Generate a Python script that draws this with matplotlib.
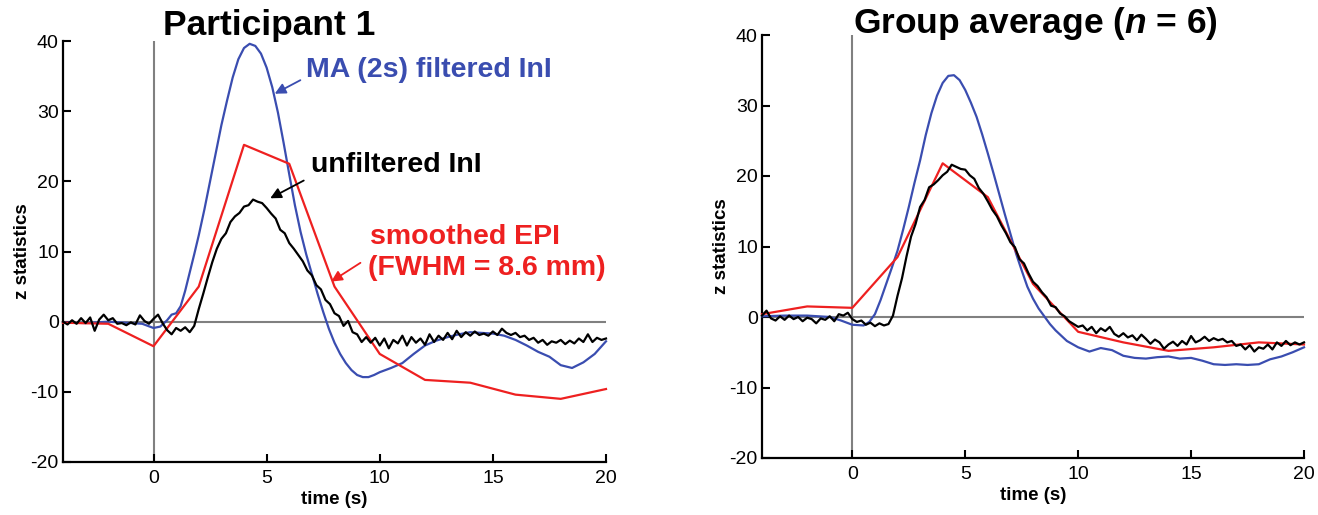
import matplotlib
matplotlib.use("Agg")
import matplotlib.pyplot as plt
import numpy as np

plt.rcParams['font.family'] = ['Liberation Sans', 'DejaVu Sans']
plt.rcParams['mathtext.fontset'] = 'custom'
plt.rcParams['mathtext.rm'] = 'Liberation Sans:bold'
plt.rcParams['mathtext.it'] = 'Liberation Sans:italic:bold'
plt.rcParams['axes.unicode_minus'] = False

# ---------------- data ----------------
# unfiltered InI (black), sampled every 0.2 s from -4 to 20
t_black = [-4.0 + 0.2 * i for i in range(121)]
p1_unfiltered = [
    0.0, -0.4, 0.2, -0.3, 0.5, -0.2, 0.6, -1.3, 0.3, 1.0,
    0.2, 0.5, -0.3, -0.2, -0.5, -0.1, -0.4, 0.9, 0.1, -0.3,
    0.4, 1.0, -0.2, -1.2, -1.8, -0.9, -1.3, -0.8, -1.5, -0.6,
    1.8, 4.0, 6.3, 8.5, 10.4, 11.8, 12.6, 14.2, 15.0, 15.5,
    16.4, 16.6, 17.4, 17.1, 16.9, 16.2, 15.4, 14.7, 13.1, 12.6,
    11.2, 10.4, 9.5, 8.6, 7.3, 6.6, 5.2, 4.6, 3.1, 2.5,
    1.2, 0.8, -0.6, 0.1, -1.5, -1.8, -2.9, -2.2, -3.0, -2.3,
    -3.4, -2.4, -3.8, -2.6, -3.1, -2.0, -3.4, -2.2, -3.0, -2.4,
    -3.3, -1.8, -2.9, -2.0, -2.6, -1.6, -2.5, -1.3, -2.2, -1.5,
    -2.0, -1.4, -1.9, -1.7, -2.0, -1.4, -1.9, -1.0, -1.6, -1.9,
    -1.6, -2.2, -2.0, -2.6, -2.3, -3.0, -2.6, -3.3, -2.8, -3.0,
    -2.6, -3.2, -2.7, -3.1, -2.4, -2.9, -1.8, -2.9, -2.3, -2.6,
    -2.4,
]
grp_unfiltered = [
    0.2, 0.9, -0.2, -0.5, 0.1, -0.4, 0.2, -0.3, 0.0, -0.6,
    -0.1, -0.3, -0.9, -0.2, -0.4, 0.1, -0.6, 0.4, 0.2, 0.6,
    -0.3, -0.7, -0.5, -1.1, -0.8, -1.3, -0.9, -1.2, -1.0, 0.2,
    3.0, 5.5, 8.6, 11.4, 13.2, 15.6, 16.6, 18.4, 18.8, 19.4,
    20.1, 20.6, 21.6, 21.3, 21.0, 20.9, 20.1, 19.6, 18.3, 17.5,
    16.4, 15.2, 14.3, 13.0, 11.9, 10.6, 9.9, 8.2, 7.6, 6.2,
    5.0, 4.4, 3.5, 2.8, 1.6, 1.4, 0.5, 0.1, -0.6, -1.0,
    -1.4, -1.2, -1.9, -1.4, -2.3, -1.6, -2.0, -1.4, -2.4, -2.8,
    -2.3, -2.9, -2.6, -3.3, -2.5, -3.1, -3.8, -3.2, -3.6, -4.5,
    -3.9, -3.5, -4.1, -3.4, -3.9, -2.7, -3.6, -3.3, -2.8, -3.4,
    -3.0, -3.3, -3.1, -3.6, -3.4, -4.1, -3.9, -4.6, -4.0, -4.9,
    -4.3, -4.5, -3.9, -4.6, -3.6, -4.1, -3.4, -4.0, -3.6, -3.9,
    -3.6,
]

# MA (2s) filtered InI (blue)
t_blue_p1 = [-4, -3, -2, -1, -0.5, 0, 0.3, 0.6, 0.8, 1.0, 1.2, 1.4, 1.6, 1.8,
             2.0, 2.25, 2.5, 2.75, 3.0, 3.25, 3.5, 3.75, 4.0, 4.25, 4.5, 4.75,
             5.0, 5.25, 5.5, 5.75, 6.0, 6.25, 6.5, 6.75, 7.0, 7.25, 7.5, 7.75,
             8.0, 8.25, 8.5, 8.75, 9.0, 9.25, 9.5, 9.75, 10.0, 10.5, 11.0, 11.5,
             12.0, 12.5, 13.0, 13.5, 14.0, 14.5, 15.0, 15.5, 16.0, 16.5, 17.0,
             17.5, 18.0, 18.5, 19.0, 19.5, 20.0]
p1_ma = [-0.1, -0.2, 0.0, -0.2, -0.3, -0.9, -0.7, 0.2, 1.0, 1.2, 2.2, 4.4, 7.0, 9.6,
         12.3, 16.0, 20.0, 24.0, 28.0, 31.5, 34.8, 37.4, 39.0, 39.6, 39.3, 38.2,
         36.2, 33.4, 29.8, 25.5, 21.0, 16.6, 12.8, 9.6, 6.8, 4.0, 1.4, -1.0,
         -3.0, -4.6, -5.9, -6.9, -7.6, -7.9, -7.9, -7.6, -7.2, -6.6, -5.9, -4.6,
         -3.4, -2.7, -2.2, -1.8, -1.5, -1.6, -1.7, -2.0, -2.6, -3.4, -4.3,
         -5.0, -6.2, -6.6, -5.8, -4.6, -2.8]
t_blue_grp = [-4, -3, -2, -1, -0.5, 0, 0.5, 0.75, 1.0, 1.25, 1.5, 1.75, 2.0, 2.25,
              2.5, 2.75, 3.0, 3.25, 3.5, 3.75, 4.0, 4.25, 4.5, 4.75, 5.0, 5.25,
              5.5, 5.75, 6.0, 6.25, 6.5, 6.75, 7.0, 7.25, 7.5, 7.75, 8.0, 8.25,
              8.5, 8.75, 9.0, 9.5, 10.0, 10.5, 11.0, 11.5, 12.0, 12.5, 13.0, 13.5,
              14.0, 14.5, 15.0, 15.5, 16.0, 16.5, 17.0, 17.5, 18.0, 18.5, 19.0,
              19.5, 20.0]
grp_ma = [0.1, 0.2, 0.2, 0.0, -0.5, -1.1, -1.2, -0.7, 0.4, 2.4, 4.7, 7.0, 9.4, 12.4,
          15.6, 19.0, 22.2, 25.8, 28.9, 31.4, 33.2, 34.2, 34.3, 33.6, 32.2, 30.4,
          28.4, 25.9, 23.2, 20.4, 17.5, 14.6, 11.8, 9.0, 6.6, 4.3, 2.6, 1.2,
          0.1, -1.0, -1.9, -3.4, -4.3, -4.9, -4.4, -4.7, -5.5, -5.8, -5.9, -5.7,
          -5.6, -5.9, -5.8, -6.2, -6.7, -6.8, -6.7, -6.8, -6.7, -6.0, -5.6,
          -5.0, -4.3]

# smoothed EPI (red), one value per 2 s volume
t_red = [-4, -2, 0, 2, 4, 6, 8, 10, 12, 14, 16, 18, 20]
p1_epi = [-0.15, -0.3, -3.5, 5.0, 25.2, 22.5, 5.0, -4.6, -8.3, -8.7, -10.4, -11.0, -9.6]
grp_epi = [0.4, 1.5, 1.3, 8.5, 21.8, 17.0, 4.7, -2.1, -3.6, -4.8, -4.3, -3.6, -3.9]

x_ticks = [0, 5, 10, 15, 20]
y_ticks = [-20, -10, 0, 10, 20, 30, 40]

BLUE = '#3a4db0'
RED = '#ee2020'
GRAY = '#808080'

W, H = 1318, 515
fig = plt.figure(figsize=(W / 100, H / 100), dpi=100)


def px_axes(x0, x1, ytop, ybot):
    return fig.add_axes([x0 / W, (H - ybot) / H, (x1 - x0) / W, (ybot - ytop) / H])


def style(ax):
    ax.set_xlim(-4, 20)
    ax.set_ylim(-20, 40)
    ax.set_xticks(x_ticks)
    ax.set_yticks(y_ticks)
    for s in ('top', 'right'):
        ax.spines[s].set_visible(False)
    for s in ('left', 'bottom'):
        ax.spines[s].set_linewidth(1.6)
    ax.tick_params(direction='in', length=6, width=1.5, labelsize=14)
    ax.tick_params(axis='y', pad=3)
    ax.tick_params(axis='x', pad=6)
    ax.axhline(0, color=GRAY, lw=1.5, zorder=1)
    ax.axvline(0, color=GRAY, lw=1.5, zorder=1)
    ax.set_xlabel('time (s)', fontsize=13.5, fontweight='bold', labelpad=3)
    ax.set_ylabel('z statistics', fontsize=13.5, fontweight='bold', labelpad=0)


ax1 = px_axes(63, 606, 41, 462)
ax2 = px_axes(762, 1304, 35, 458)

for ax, tb, bl, rd, tbb, ma in ((ax1, t_black, p1_unfiltered, p1_epi, t_blue_p1, p1_ma),
                                (ax2, t_black, grp_unfiltered, grp_epi, t_blue_grp, grp_ma)):
    style(ax)
    ax.plot(tbb, ma, color=BLUE, lw=1.6, zorder=3, clip_on=False)
    ax.plot(t_red, rd, color=RED, lw=1.6, zorder=3, clip_on=False)
    ax.plot(tb, bl, color='black', lw=1.6, zorder=4, clip_on=False)

# titles
fig.text(163 / W, 1 - 35 / H, 'Participant 1', fontsize=25.5, fontweight='bold',
         ha='left', va='baseline')
fig.text(853 / W, 1 - 33 / H, r'Group average ($n$ = 6)', fontsize=25.5, fontweight='bold',
         ha='left', va='baseline')

# annotations on participant panel
ax1.text(6.75, 35.9, 'MA (2s) filtered InI', color=BLUE, fontsize=20.5, fontweight='bold',
         ha='left', va='center')
ax1.annotate('', xy=(5.25, 32.3), xytext=(6.6, 34.6),
             arrowprops=dict(arrowstyle='-|>', color=BLUE, lw=1.3, mutation_scale=16))
ax1.text(6.95, 22.3, 'unfiltered InI', color='black', fontsize=20.5, fontweight='bold',
         ha='left', va='center')
ax1.annotate('', xy=(5.05, 17.4), xytext=(6.75, 20.3),
             arrowprops=dict(arrowstyle='-|>', color='black', lw=1.3, mutation_scale=16))
ax1.text(9.55, 12.1, 'smoothed EPI', color=RED, fontsize=20.5, fontweight='bold',
         ha='left', va='center')
ax1.text(9.5, 7.6, '(FWHM = 8.6 mm)', color=RED, fontsize=20.5, fontweight='bold',
         ha='left', va='center')
ax1.annotate('', xy=(7.75, 5.5), xytext=(9.25, 8.6),
             arrowprops=dict(arrowstyle='-|>', color=RED, lw=1.3, mutation_scale=16))

fig.savefig('out.png', dpi=100)
